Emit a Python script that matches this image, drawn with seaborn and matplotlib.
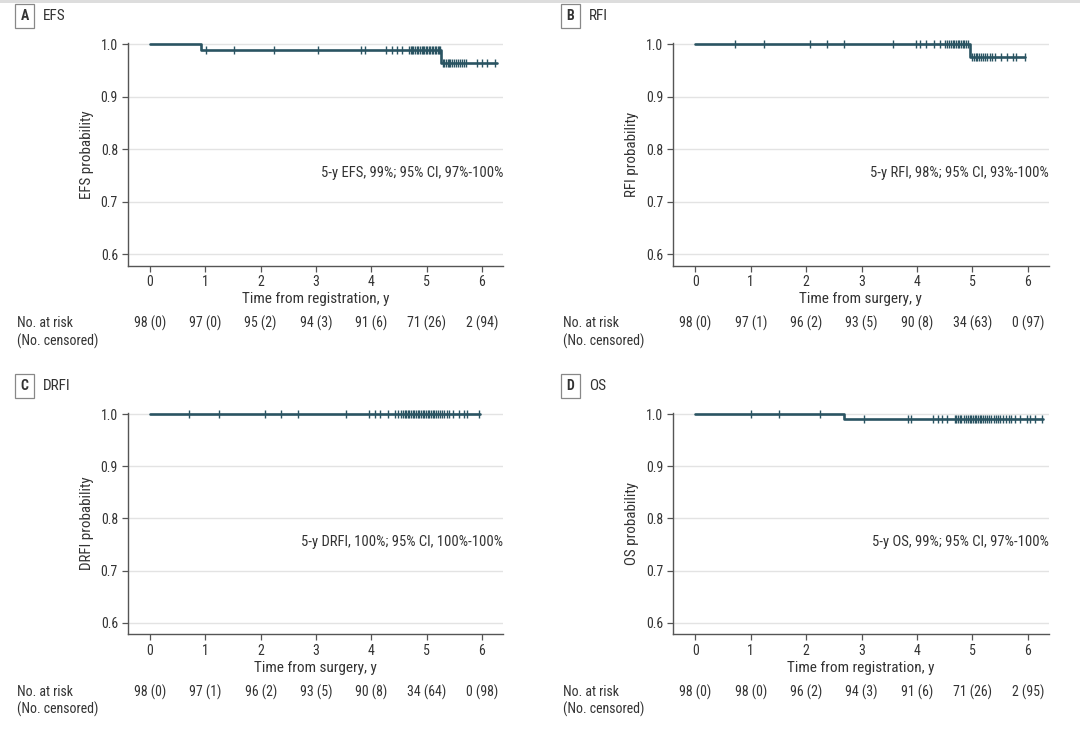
import matplotlib
matplotlib.use("Agg")
import matplotlib.pyplot as plt
import matplotlib.font_manager as fm
import numpy as np
import pandas as pd
import seaborn as sns

sns.set_theme(style="white")
names = {f.name for f in fm.fontManager.ttflist}
fam = [f for f in ["Roboto Condensed", "Liberation Sans Narrow", "Open Sans Condensed"] if f in names]
plt.rcParams['font.family'] = fam + ['DejaVu Sans']

# ---------------- data ----------------
# EFS
efs_step_t = [0.0, 0.92, 5.26, 6.27]
efs_step_s = [1.0, 0.99, 0.965, 0.965]
efs_cens = [1.01, 1.51, 2.24, 3.03, 3.82, 3.89, 4.27, 4.38, 4.46, 4.56,
            4.68, 4.71, 4.73, 4.76, 4.79, 4.82, 4.85, 4.88, 4.91, 4.93, 4.96,
            4.99, 5.01, 5.04, 5.06, 5.09, 5.12, 5.15, 5.17, 5.20, 5.22, 5.25,
            5.30, 5.32, 5.35, 5.38, 5.40, 5.43, 5.46, 5.50, 5.53, 5.57, 5.60,
            5.64, 5.68, 5.72, 5.91, 6.00, 6.09, 6.24]
efs_risk = ["98 (0)", "97 (0)", "95 (2)", "94 (3)", "91 (6)", "71 (26)", "2 (94)"]

# RFI
rfi_step_t = [0.0, 4.95, 5.95]
rfi_step_s = [1.0, 0.976, 0.976]
rfi_cens = [0.71, 1.24, 2.07, 2.38, 2.68, 3.56, 3.98, 4.06, 4.16, 4.31, 4.41,
            4.50, 4.54, 4.58, 4.61, 4.64, 4.67, 4.70, 4.73, 4.76, 4.79, 4.82,
            4.85, 4.88, 4.92, 5.00, 5.03, 5.06, 5.09, 5.12, 5.15, 5.19, 5.23,
            5.27, 5.31, 5.36, 5.41, 5.51, 5.62, 5.73, 5.79, 5.94]
rfi_risk = ["98 (0)", "97 (1)", "96 (2)", "93 (5)", "90 (8)", "34 (63)", "0 (97)"]

# DRFI
drfi_step_t = [0.0, 5.96]
drfi_step_s = [1.0, 1.0]
drfi_cens = [0.71, 1.24, 2.08, 2.37, 2.67, 3.54, 3.95, 4.07, 4.16, 4.31, 4.42,
             4.49, 4.53, 4.57, 4.60, 4.63, 4.66, 4.69, 4.72, 4.75, 4.78, 4.81,
             4.84, 4.87, 4.90, 4.93, 4.96, 4.99, 5.02, 5.05, 5.08, 5.11, 5.14,
             5.17, 5.20, 5.24, 5.28, 5.32, 5.36, 5.40, 5.47, 5.58, 5.68, 5.73, 5.94]
drfi_risk = ["98 (0)", "97 (1)", "96 (2)", "93 (5)", "90 (8)", "34 (64)", "0 (98)"]

# OS
os_step_t = [0.0, 2.68, 6.28]
os_step_s = [1.0, 0.99, 0.99]
os_cens = [1.01, 1.51, 2.25, 3.04, 3.83, 3.89, 4.28, 4.38, 4.45, 4.54,
           4.68, 4.71, 4.74, 4.77, 4.80, 4.84, 4.88, 4.92, 4.95, 4.98, 5.01,
           5.04, 5.07, 5.10, 5.13, 5.16, 5.19, 5.22, 5.26, 5.30, 5.34, 5.38,
           5.42, 5.46, 5.50, 5.55, 5.60, 5.65, 5.70, 5.77, 5.86, 5.98, 6.04,
           6.13, 6.25]
os_risk = ["98 (0)", "98 (0)", "96 (2)", "94 (3)", "91 (6)", "71 (26)", "2 (95)"]

xticks = [0, 1, 2, 3, 4, 5, 6]
yticks = [0.6, 0.7, 0.8, 0.9, 1.0]

panels = [
    dict(letter="A", name="EFS", t=efs_step_t, s=efs_step_s, c=efs_cens, risk=efs_risk,
         xlabel="Time from registration, y", ylabel="EFS probability",
         note="5-y EFS, 99%; 95% CI, 97%-100%"),
    dict(letter="B", name="RFI", t=rfi_step_t, s=rfi_step_s, c=rfi_cens, risk=rfi_risk,
         xlabel="Time from surgery, y", ylabel="RFI probability",
         note="5-y RFI, 98%; 95% CI, 93%-100%"),
    dict(letter="C", name="DRFI", t=drfi_step_t, s=drfi_step_s, c=drfi_cens, risk=drfi_risk,
         xlabel="Time from surgery, y", ylabel="DRFI probability",
         note="5-y DRFI, 100%; 95% CI, 100%-100%"),
    dict(letter="D", name="OS", t=os_step_t, s=os_step_s, c=os_cens, risk=os_risk,
         xlabel="Time from registration, y", ylabel="OS probability",
         note="5-y OS, 99%; 95% CI, 97%-100%"),
]

W, H = 1080, 729
fig = plt.figure(figsize=(10.8, 7.29), dpi=100)
line_col = "#2a5462"
txt_col = "#333333"
spine_col = "#555555"

# px positions: (left, top, right, bottom)
boxes = [(127.6, 43.3, 503, 265.7), (672.8, 43.3, 1049, 265.7),
         (127.6, 413, 503, 634.3), (672.8, 413, 1049, 634.3)]
label_pos = [(17, 16), (563, 16), (17, 386), (563, 386)]
risk_rows = [(323, 341), (323, 341), (692, 709), (692, 709)]

# top border
fig.patches.append(plt.Rectangle((0, 1 - 2.5 / H), 1, 2.5 / H, transform=fig.transFigure,
                                 facecolor="#dddddd", edgecolor="none"))

for p, (l, tp, r, b), (lx, ly), (ry1, ry2) in zip(panels, boxes, label_pos, risk_rows):
    ax = fig.add_axes([l / W, 1 - b / H, (r - l) / W, (b - tp) / H])
    df = pd.DataFrame({"t": p["t"], "s": p["s"]})
    sns.lineplot(data=df, x="t", y="s", ax=ax, color=line_col, lw=1.9,
                 drawstyle="steps-post", estimator=None, zorder=3, clip_on=False)
    st = np.asarray(p["t"]); ss = np.asarray(p["s"])
    cy = ss[np.searchsorted(st, np.asarray(p["c"]), side="right") - 1]
    cdf = pd.DataFrame({"t": p["c"], "s": cy})
    sns.scatterplot(data=cdf, x="t", y="s", ax=ax, marker="|", s=40, color=line_col,
                    linewidth=1.0, zorder=4, clip_on=False)
    ax.set_xlim(-0.405, 6.38)
    ax.set_ylim(0.578, 1.002)
    ax.set_xticks(xticks)
    ax.set_yticks(yticks)
    ax.set_yticklabels([f"{v:.1f}" for v in yticks])
    ax.yaxis.grid(True, color="#e3e3e3", lw=1)
    ax.set_axisbelow(True)
    for sp in ["top", "right"]:
        ax.spines[sp].set_visible(False)
    for sp in ["left", "bottom"]:
        ax.spines[sp].set_color(spine_col)
        ax.spines[sp].set_linewidth(1.0)
    ax.tick_params(axis="both", which="both", direction="out", length=4, width=0.9,
                   color=spine_col, labelsize=10, labelcolor=txt_col, pad=3,
                   bottom=True, left=True)
    ax.set_xlabel(p["xlabel"], fontsize=11, color=txt_col, labelpad=2)
    ax.set_ylabel(p["ylabel"], fontsize=10.8, color=txt_col, labelpad=5)
    ax.text(1.0, 0.754, p["note"], transform=ax.get_yaxis_transform(), ha="right",
            va="center", fontsize=10.5, color=txt_col)
    # panel label
    fig.text((lx + 3.5) / W, 1 - ly / H, p["letter"], fontsize=10, fontweight="bold", color=txt_col,
             ha="left", va="center",
             bbox=dict(boxstyle="square,pad=0.38", fc="white", ec="#888888", lw=0.9))
    fig.text((lx + 26) / W, 1 - ly / H, p["name"], fontsize=11, color=txt_col,
             ha="left", va="center")
    # risk table
    fig.text(lx / W, 1 - ry1 / H, "No. at risk", fontsize=10, color=txt_col, va="center")
    fig.text(lx / W, 1 - ry2 / H, "(No. censored)", fontsize=10, color=txt_col, va="center")
    yax = (b - ry1) / (b - tp)
    for xv, lab in zip(xticks, p["risk"]):
        ax.text(xv, yax, lab, transform=ax.get_xaxis_transform(), ha="center",
                va="center", fontsize=10, color=txt_col, clip_on=False)

fig.savefig("out.png", dpi=100)
